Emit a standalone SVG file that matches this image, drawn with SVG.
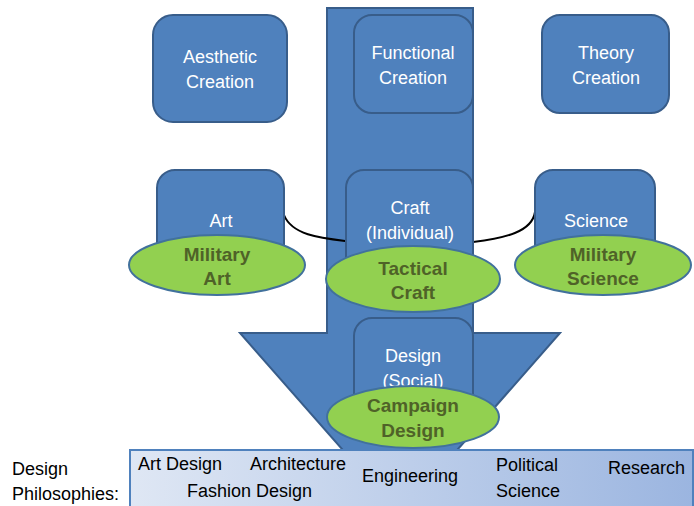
<svg xmlns="http://www.w3.org/2000/svg" width="694" height="506" viewBox="0 0 694 506">
<style>
.box{fill:#4f81bd;stroke:#385d8a;stroke-width:2}
.ell{fill:#92d050;stroke:#41719c;stroke-width:2}
.w{font-family:"Liberation Sans",Arial,sans-serif;font-size:18px;fill:#fff;text-anchor:middle}
.g{font-family:"Liberation Sans",Arial,sans-serif;font-size:19px;font-weight:bold;fill:#4f6228;text-anchor:middle}
.k{font-family:"Liberation Sans",Arial,sans-serif;font-size:18px;fill:#000}
.conn{fill:none;stroke:#000;stroke-width:2}
</style>
<defs>
<linearGradient id="bar" x1="0" y1="0" x2="1" y2="0">
<stop offset="0" stop-color="#dfe7f4"/>
<stop offset="1" stop-color="#9bb5e0"/>
</linearGradient>
</defs>
<g id="arrow">
<path class="box" d="M327 8 H473 V333 H560 L400 515 L240 333 H327 Z"/>
</g>
<g id="aesthetic"><rect class="box" x="153" y="15" width="134" height="107" rx="20"/><text class="w" x="220" y="63">Aesthetic</text><text class="w" x="220" y="88">Creation</text></g>
<g id="functional"><rect class="box" x="354" y="15" width="119" height="98" rx="18"/><text class="w" x="413" y="59">Functional</text><text class="w" x="413" y="84">Creation</text></g>
<g id="theory"><rect class="box" x="542" y="15" width="127" height="98" rx="18"/><text class="w" x="606" y="59">Theory</text><text class="w" x="606" y="84">Creation</text></g>
<g id="connectors">
<path class="conn" d="M284 215 C292 235 320 238 346 241"/>
<path class="conn" d="M473 242 C505 238 532 232 535 212"/>
</g>
<g id="art"><rect class="box" x="157" y="170" width="127" height="100" rx="18"/><text class="w" x="221" y="227">Art</text></g>
<g id="craft"><rect class="box" x="346" y="170" width="127" height="110" rx="18"/><text class="w" x="410" y="214">Craft</text><text class="w" x="410" y="239">(Individual)</text></g>
<g id="science"><rect class="box" x="535" y="170" width="120" height="100" rx="18"/><text class="w" x="596" y="227">Science</text></g>
<g id="military-art"><ellipse class="ell" cx="217" cy="265" rx="88" ry="30"/><text class="g" x="217" y="261">Military</text><text class="g" x="217" y="285">Art</text></g>
<g id="tactical-craft"><ellipse class="ell" cx="413" cy="279" rx="87" ry="33"/><text class="g" x="413" y="275">Tactical</text><text class="g" x="413" y="299">Craft</text></g>
<g id="military-science"><ellipse class="ell" cx="603" cy="265" rx="88" ry="30"/><text class="g" x="603" y="261">Military</text><text class="g" x="603" y="285">Science</text></g>
<g id="design"><rect class="box" x="354" y="318" width="119" height="95" rx="18"/><text class="w" x="413" y="362">Design</text><text class="w" x="413" y="387">(Social)</text></g>
<g id="campaign-design"><ellipse class="ell" cx="413" cy="417" rx="86" ry="31"/><text class="g" x="413" y="412">Campaign</text><text class="g" x="413" y="437">Design</text></g>
<g id="philosophies">
<rect x="130" y="450" width="563" height="58" fill="url(#bar)" stroke="#4f81bd" stroke-width="2"/>
<text class="k" x="12" y="475">Design</text>
<text class="k" x="12" y="500">Philosophies:</text>
<text class="k" x="138" y="470">Art Design</text>
<text class="k" x="250" y="470">Architecture</text>
<text class="k" x="187" y="497">Fashion Design</text>
<text class="k" x="362" y="482">Engineering</text>
<text class="k" x="496" y="471">Political</text>
<text class="k" x="496" y="497">Science</text>
<text class="k" x="608" y="474">Research</text>
</g>
</svg>
